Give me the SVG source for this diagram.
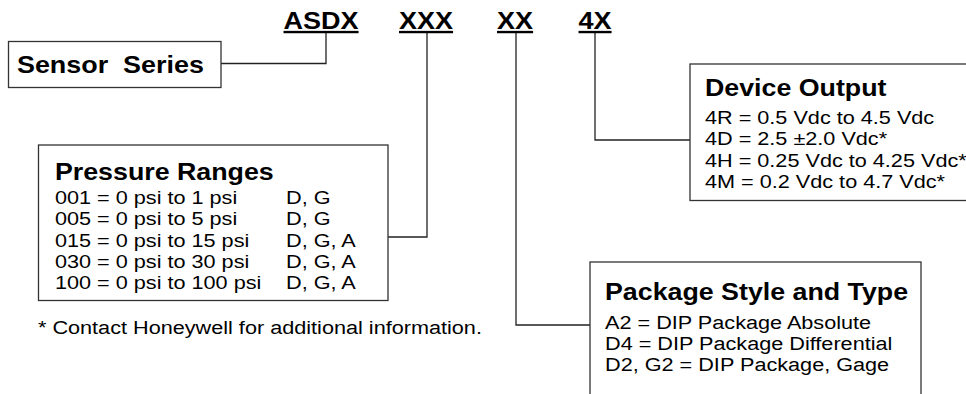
<svg xmlns="http://www.w3.org/2000/svg" width="966" height="394" viewBox="0 0 966 394">
<style>
.box{fill:#fff;stroke:#333;stroke-width:1.3}
.con{fill:none;stroke:#222;stroke-width:1.3}
text{font-family:"Liberation Sans",Arial,sans-serif;fill:#000}
.t{font-size:23.7px;font-weight:bold;text-decoration:underline}
.h{font-size:23.5px;font-weight:bold}
.s{font-size:23.6px;font-weight:bold}
.b{font-size:19px}
</style>
<rect width="966" height="394" fill="#fff"/>
<g id="connectors">
<polyline class="con" points="221,63.5 326,63.5 326,33"/>
<polyline class="con" points="427,33 427,237 388,237"/>
<polyline class="con" points="516,33 516,325 590,325"/>
<polyline class="con" points="595,33 595,140 690,140"/>
</g>
<g id="sensor-series">
<rect class="box" x="8.5" y="41.5" width="212.5" height="46"/>
</g>
<g id="pressure-ranges">
<rect class="box" x="38.5" y="145" width="349.5" height="155.5"/>
</g>
<g id="device-output">
<rect class="box" x="690" y="64" width="290" height="136.5"/>
</g>
<g id="package-style">
<rect class="box" x="590" y="262" width="331" height="150"/>
</g>
<g id="labels" transform="scale(1.14,1)">
<g id="title">
<text class="t" x="248.7" y="29">ASDX</text>
<text class="t" x="350" y="29">XXX</text>
<text class="t" x="436" y="29">XX</text>
<text class="t" x="507.5" y="29">4X</text>
</g>
<g id="sensor-series-text">
<text class="s" x="14.9" y="73">Sensor&#160; Series</text>
</g>
<g id="pressure-ranges-text">
<text class="h" x="48.2" y="180.5">Pressure Ranges</text>
<text class="b" x="48.2" y="204">001 = 0 psi to 1 psi</text><text class="b" x="250.9" y="204">D, G</text>
<text class="b" x="48.2" y="225.3">005 = 0 psi to 5 psi</text><text class="b" x="250.9" y="225.3">D, G</text>
<text class="b" x="48.2" y="246.6">015 = 0 psi to 15 psi</text><text class="b" x="250.9" y="246.6">D, G, A</text>
<text class="b" x="48.2" y="267.9">030 = 0 psi to 30 psi</text><text class="b" x="250.9" y="267.9">D, G, A</text>
<text class="b" x="48.2" y="289.2">100 = 0 psi to 100 psi</text><text class="b" x="250.9" y="289.2">D, G, A</text>
</g>
<g id="footnote">
<text class="b" x="33.3" y="334">* Contact Honeywell for additional information.</text>
</g>
<g id="device-output-text">
<text class="h" x="618.4" y="96">Device Output</text>
<text class="b" x="618.4" y="124">4R = 0.5 Vdc to 4.5 Vdc</text>
<text class="b" x="618.4" y="145.3">4D = 2.5 ±2.0 Vdc*</text>
<text class="b" x="618.4" y="166.6">4H = 0.25 Vdc to 4.25 Vdc*</text>
<text class="b" x="618.4" y="187.9">4M = 0.2 Vdc to 4.7 Vdc*</text>
</g>
<g id="package-style-text">
<text class="h" x="530.7" y="300.5">Package Style and Type</text>
<text class="b" x="530.7" y="329">A2 = DIP Package Absolute</text>
<text class="b" x="530.7" y="350">D4 = DIP Package Differential</text>
<text class="b" x="530.7" y="371">D2, G2 = DIP Package, Gage</text>
</g>
</g>
</svg>
